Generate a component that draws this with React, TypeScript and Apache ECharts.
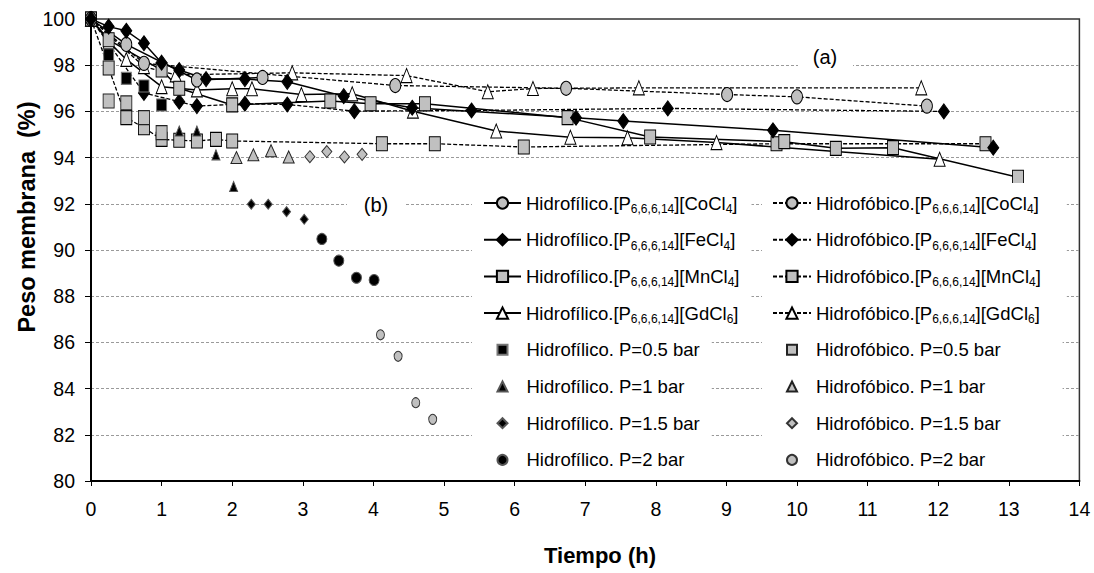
import React, { useEffect, useRef } from "react";
import * as echarts from "echarts";

const NARROW = "'Liberation Sans Narrow', 'Arial Narrow', 'Liberation Sans', sans-serif";
const BOLD = "'Liberation Sans', Arial, sans-serif";

// ---- names ----
const N_HFI_CO = "Hidrofílico.[P6,6,6,14][CoCl4]";
const N_HFI_FE = "Hidrofílico.[P6,6,6,14][FeCl4]";
const N_HFI_MN = "Hidrofílico.[P6,6,6,14][MnCl4]";
const N_HFI_GD = "Hidrofílico.[P6,6,6,14][GdCl6]";
const N_HFO_CO = "Hidrofóbico.[P6,6,6,14][CoCl4]";
const N_HFO_FE = "Hidrofóbico.[P6,6,6,14][FeCl4]";
const N_HFO_MN = "Hidrofóbico.[P6,6,6,14][MnCl4]";
const N_HFO_GD = "Hidrofóbico.[P6,6,6,14][GdCl6]";
const N_HFI_P05 = "Hidrofílico. P=0.5 bar";
const N_HFI_P1 = "Hidrofílico. P=1 bar";
const N_HFI_P15 = "Hidrofílico. P=1.5 bar";
const N_HFI_P2 = "Hidrofílico. P=2 bar";
const N_HFO_P05 = "Hidrofóbico. P=0.5 bar";
const N_HFO_P1 = "Hidrofóbico. P=1 bar";
const N_HFO_P15 = "Hidrofóbico. P=1.5 bar";
const N_HFO_P2 = "Hidrofóbico. P=2 bar";

// ---- data: [time (h), membrane weight (%)] ----
const hfiCo = [[0, 100], [0.5, 98.9], [1.5, 97.36], [2.43, 97.47]];
const hfoCo = [[0, 100], [0.75, 98.08], [4.31, 97.12], [6.73, 97.0], [9.01, 96.73], [10.0, 96.63], [11.84, 96.23]];
const hfiFe = [[0, 100], [0.25, 99.67], [0.5, 99.49], [0.75, 98.95], [1.0, 98.11], [1.25, 97.79], [1.63, 97.4], [2.18, 97.4], [2.78, 97.28], [3.58, 96.66], [4.55, 96.16], [6.87, 95.73], [7.54, 95.58], [9.66, 95.18], [12.78, 94.43]];
const hfoFe = [[0, 100], [0.75, 96.8], [1.25, 96.42], [1.5, 96.23], [2.18, 96.33], [2.78, 96.3], [3.73, 96.01], [5.39, 96.04], [8.17, 96.13], [12.08, 96.0]];
const hfiMn = [[0, 100], [0.25, 99.1], [1.0, 97.79], [1.25, 97.0], [2.0, 96.28], [3.39, 96.45], [3.96, 96.33], [4.73, 96.33], [6.75, 95.73], [7.92, 94.89], [9.82, 94.69], [10.55, 94.4], [11.36, 94.43], [13.13, 93.15]];
const hfoMn = [[0, 100], [0.25, 97.88], [0.5, 95.73], [0.75, 95.29], [1.0, 94.79], [1.25, 94.75], [1.5, 94.72], [1.77, 94.79], [2.0, 94.72], [4.12, 94.6], [4.87, 94.6], [6.13, 94.46], [9.71, 94.6], [12.67, 94.6]];
const hfiGd = [[0, 100], [0.25, 99.02], [0.5, 98.25], [1.0, 97.07], [1.5, 96.93], [2.0, 96.98], [2.28, 96.98], [2.98, 96.73], [3.7, 96.76], [4.56, 96.01], [5.74, 95.15], [6.79, 94.88], [7.6, 94.86], [8.86, 94.65], [12.02, 93.93]];
const hfoGd = [[0, 100], [0.75, 97.94], [1.2, 97.58], [2.85, 97.67], [4.47, 97.55], [5.62, 96.85], [6.26, 96.99], [7.76, 97.02], [11.76, 97.02]];

const hfiP05 = [[0.25, 98.45], [0.5, 97.43], [0.75, 97.1], [1.0, 96.28]];
const hfiP1 = [[1.25, 95.15], [1.5, 95.15], [1.77, 94.12], [2.02, 92.75]];
const hfiP15 = [[2.27, 91.98], [2.51, 91.98], [2.77, 91.66], [3.02, 91.33]];
const hfiP2 = [[3.27, 90.48], [3.51, 89.54], [3.76, 88.8], [4.01, 88.7]];
const hfoP05 = [[0.25, 96.45], [0.5, 96.37], [0.75, 95.73], [1.0, 95.08]];
const hfoP1 = [[2.06, 94.0], [2.3, 94.12], [2.55, 94.3], [2.8, 94.03]];
const hfoP15 = [[3.1, 94.04], [3.34, 94.26], [3.59, 94.03], [3.84, 94.14]];
const hfoP2 = [[4.1, 86.33], [4.35, 85.4], [4.6, 83.39], [4.84, 82.67]];

// axis ranges
const X_MIN = 0, X_MAX = 14, X_STEP = 1;
const Y_MIN = 80, Y_MAX = 100, Y_STEP = 2;

const GRAY = "#c0c0c0";
const LEG_FS = 18.5;
const TICK_FS = 19.5;

function lineSeries(name: string, data: number[][], dashed: boolean, symbol: string, size: number[], fill: string) {
  return {
    type: "line",
    name,
    data,
    symbol,
    symbolSize: size,
    showAllSymbol: true,
    lineStyle: { color: "#000", width: dashed ? 1.3 : 1.5, type: dashed ? [4, 2] : "solid" },
    itemStyle: { color: fill, borderColor: "#000", borderWidth: 1 },
    emphasis: { disabled: true },
    z: 3,
  };
}

function scatterSeries(name: string, data: number[][], symbol: string, size: number[], fill: string, border: string) {
  return {
    type: "scatter",
    name,
    data,
    symbol,
    symbolSize: size,
    itemStyle: { color: fill, borderColor: border, borderWidth: 1, opacity: 1 },
    emphasis: { disabled: true },
    z: 4,
  };
}

const fmt = (name: string) =>
  name.replace("[P6,6,6,14]", "[P{s|6,6,6,14}]").replace(/\[([A-Za-z]+)Cl(\d)\]$/, "[$1Cl{s|$2}]");

function legendText(padLeft: number) {
  return {
    fontFamily: NARROW,
    fontSize: LEG_FS,
    color: "#000",
    lineHeight: 24,
    padding: [0, 0, 0, padLeft],
    rich: {
      s: { fontFamily: NARROW, fontSize: 12, verticalAlign: "bottom", color: "#000" },
    },
  };
}

function legend(data: string[], left: number, top: number, itemW: number, itemH: number, padding: number[], textPad: number) {
  return {
    data,
    orient: "vertical",
    left,
    top,
    itemWidth: itemW,
    itemHeight: itemH,
    itemGap: 12.7,
    padding,
    backgroundColor: "#fff",
    selectedMode: false,
    symbolKeepAspect: true,
    formatter: fmt,
    textStyle: legendText(textPad),
    z: 5,
  };
}

export default function App() {
  const ref = useRef<HTMLDivElement>(null);
  useEffect(() => {
    if (!ref.current) return;
    const chart = echarts.init(ref.current, undefined, { renderer: "svg" });
    const option = {
      animation: false,
      backgroundColor: "#fff",
      grid: {
        left: 91,
        right: 14.6,
        top: 19,
        bottom: 92,
        show: true,
        borderColor: "#333",
        borderWidth: 1.5,
        backgroundColor: "transparent",
      },
      xAxis: {
        type: "value",
        min: X_MIN,
        max: X_MAX,
        interval: X_STEP,
        axisLine: { show: true, onZero: false, lineStyle: { color: "#000", width: 2 } },
        axisTick: { show: true, inside: false, length: 5, lineStyle: { color: "#000", width: 1 } },
        axisLabel: { fontFamily: NARROW, fontSize: TICK_FS, color: "#000", margin: 18 },
        splitLine: { show: false },
      },
      yAxis: {
        type: "value",
        min: Y_MIN,
        max: Y_MAX,
        interval: Y_STEP,
        axisLine: { show: true, onZero: false, lineStyle: { color: "#000", width: 2 } },
        axisTick: { show: true, inside: false, length: 6, lineStyle: { color: "#000", width: 1 } },
        axisLabel: { fontFamily: NARROW, fontSize: TICK_FS, color: "#000", margin: 16 },
        splitLine: {
          show: true,
          showMinLine: false,
          showMaxLine: false,
          lineStyle: { color: "#9a9a9a", width: 1, type: [3, 2] },
        },
      },
      legend: [
        legend([N_HFI_CO, N_HFI_FE, N_HFI_MN, N_HFI_GD], 472, 183, 37, 14, [8, 12, 7, 11], 0),
        legend([N_HFI_P05, N_HFI_P1, N_HFI_P15, N_HFI_P2], 472, 331.8, 10, 10, [6, 12, 6, 24.5], 14),
        legend([N_HFO_CO, N_HFO_FE, N_HFO_MN, N_HFO_GD], 762, 183, 38, 14, [8, 26, 7, 10], 0),
        legend([N_HFO_P05, N_HFO_P1, N_HFO_P15, N_HFO_P2], 762, 331.8, 10, 10, [6, 62, 6, 24], 14),
      ],
      graphic: [
        { type: "rect", z: 1, shape: { x: 798, y: 45, width: 55, height: 25 }, style: { fill: "#fff" } },
        { type: "rect", z: 1, shape: { x: 347, y: 192, width: 58, height: 25 }, style: { fill: "#fff" } },
        {
          type: "text", z: 1, x: 825, y: 57,
          style: { text: "(a)", fontFamily: NARROW, fontSize: 20, fill: "#000", align: "center", verticalAlign: "middle" },
        },
        {
          type: "text", z: 1, x: 376, y: 205,
          style: { text: "(b)", fontFamily: NARROW, fontSize: 20, fill: "#000", align: "center", verticalAlign: "middle" },
        },
        {
          type: "text", z: 1, x: 600, y: 555,
          style: { text: "Tiempo (h)", fontFamily: BOLD, fontWeight: "bold", fontSize: 22, fill: "#000", align: "center", verticalAlign: "middle" },
        },
        {
          type: "text", z: 1, x: 27, y: 217, rotation: Math.PI / 2,
          style: { text: "Peso membrana  (%)", fontFamily: BOLD, fontWeight: "bold", fontSize: 23.5, fill: "#000", align: "center", verticalAlign: "middle" },
        },
      ],
      series: [
        lineSeries(N_HFO_MN, hfoMn, true, "rect", [11, 14], GRAY),
        lineSeries(N_HFO_GD, hfoGd, true, "triangle", [11, 14], "#fff"),
        lineSeries(N_HFO_CO, hfoCo, true, "circle", [11, 14], GRAY),
        lineSeries(N_HFO_FE, hfoFe, true, "diamond", [11, 15], "#000"),
        lineSeries(N_HFI_GD, hfiGd, false, "triangle", [11, 14], "#fff"),
        lineSeries(N_HFI_MN, hfiMn, false, "rect", [11, 14], GRAY),
        lineSeries(N_HFI_CO, hfiCo, false, "circle", [11, 14], GRAY),
        lineSeries(N_HFI_FE, hfiFe, false, "diamond", [11, 15], "#000"),
        scatterSeries(N_HFI_P05, hfiP05, "rect", [10, 12], "#000", "#777"),
        scatterSeries(N_HFI_P1, hfiP1, "triangle", [8, 10], "#000", "#555"),
        scatterSeries(N_HFI_P15, hfiP15, "diamond", [8, 10], "#000", "#555"),
        scatterSeries(N_HFI_P2, hfiP2, "circle", [10, 11], "#000", "#555"),
        scatterSeries(N_HFO_P05, hfoP05, "rect", [11, 14], GRAY, "#222"),
        scatterSeries(N_HFO_P1, hfoP1, "triangle", [11, 12], GRAY, "#222"),
        scatterSeries(N_HFO_P15, hfoP15, "diamond", [10, 12], GRAY, "#333"),
        scatterSeries(N_HFO_P2, hfoP2, "circle", [8, 10], GRAY, "#333"),
      ],
    };
    chart.setOption(option as any);
    return () => chart.dispose();
  }, []);
  return (
    <div
      ref={ref}
      style={{ position: "fixed", left: 0, top: 0, width: 1094, height: 573, background: "#fff" }}
    />
  );
}
